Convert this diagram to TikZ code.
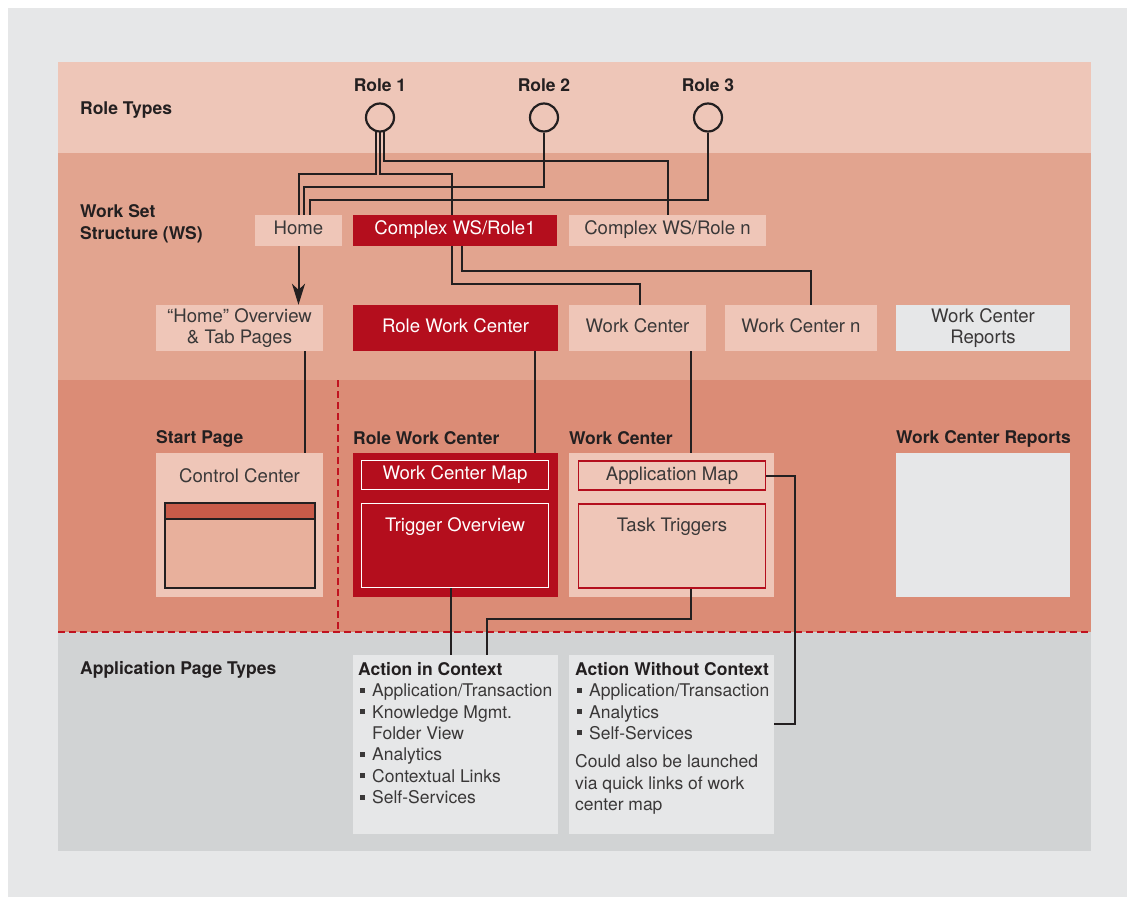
\documentclass[tikz,border=0pt]{standalone}
\usepackage{fontspec}
\setmainfont{TeX Gyre Heros}
\usetikzlibrary{calc,arrows.meta}

\definecolor{outerbg}{HTML}{E6E7E8}
\definecolor{roleband}{HTML}{EEC6B8}
\definecolor{wsband}{HTML}{E2A48F}
\definecolor{pageband}{HTML}{DB8C76}
\definecolor{appband}{HTML}{D1D3D4}
\definecolor{peach}{HTML}{EFC6B8}
\definecolor{paleg}{HTML}{E6E7E8}
\definecolor{dred}{HTML}{B40E1D}
\definecolor{winbar}{HTML}{C85B49}
\definecolor{winbody}{HTML}{E8B09C}
\definecolor{ink}{HTML}{231F20}
\definecolor{txt}{HTML}{3A3838}
\definecolor{dashred}{HTML}{C1121F}

\newcommand{\bul}{\makebox[12pt][l]{\rule[4pt]{5pt}{5pt}}}

\tikzset{
  every node/.style={font=\fontsize{18.6}{21}\selectfont, text=txt, inner sep=0pt},
  bandlabel/.style={font=\bfseries\fontsize{17.5}{22}\selectfont, text=ink, anchor=west, align=left},
  collabel/.style={font=\bfseries\fontsize{17.5}{22}\selectfont, text=ink, anchor=west},
  rolecircle/.style={circle, draw=ink, line width=2.2pt, fill=roleband, minimum size=28pt},
  pbox/.style={fill=peach, align=center},
  rbox/.style={fill=dred, text=white, align=center},
  gbox/.style={fill=paleg, text=txt, align=center},
  oneline/.style={text height=13.5pt, text depth=5.5pt},
  wframe/.style={draw=white, line width=1.8pt, text=white},
  rframe/.style={draw=dred, line width=1.8pt},
  link/.style={draw=ink, line width=2pt},
  reddash/.style={draw=dashred, line width=2pt, dash pattern=on 7pt off 4pt},
  listtext/.style={font=\fontsize{17.5}{21.4}\selectfont, anchor=north west, align=left}
}

\begin{document}
\begin{tikzpicture}[x=1pt,y=-1pt]
\useasboundingbox (0,0) rectangle (1127,897);

% background and horizontal bands
\fill[outerbg] (8,8) rectangle (1127,897);
\fill[roleband] (58,62) rectangle (1091,153);
\fill[wsband] (58,153) rectangle (1091,380);
\fill[pageband] (58,380) rectangle (1091,632);
\fill[appband] (58,632) rectangle (1091,851);
\draw[reddash] (58,632) -- (1091,632);
\draw[reddash] (338,380) -- (338,632);

% band labels
\node[bandlabel] (lblRole) at (80,110.5) {Role Types};
\node[bandlabel] (lblWS) at (80,223.5) {Work Set\\Structure (WS)};
\node[bandlabel] (lblApp) at (80,669.5) {Application Page Types};

% roles
\node[rolecircle] (r1) at (380,117.5) {};
\node[rolecircle] (r2) at (544,117.5) {};
\node[rolecircle] (r3) at (708,117.5) {};
\node[collabel, anchor=center] (r1l) at (380,85.5) {Role 1};
\node[collabel, anchor=center] (r2l) at (544,85.5) {Role 2};
\node[collabel, anchor=center] (r3l) at (708,85.5) {Role 3};

% work set structure
\node[pbox, oneline, minimum width=87pt, minimum height=31pt] (home) at (298.5,230.5) {Home};
\node[rbox, oneline, minimum width=204pt, minimum height=31pt] (cws1) at (455,230.5) {Complex WS/Role1};
\node[pbox, oneline, minimum width=197pt, minimum height=31pt] (cwsn) at (667.5,230.5) {Complex WS/Role n};

\node[pbox, minimum width=167pt, minimum height=46pt] (hov) at (239.5,328) {“Home” Overview\\\& Tab Pages};
\node[rbox, oneline, minimum width=205pt, minimum height=46pt] (rwc) at (455.5,328) {Role Work Center};
\node[pbox, oneline, minimum width=137pt, minimum height=46pt] (wc) at (637.5,328) {Work Center};
\node[pbox, oneline, minimum width=152pt, minimum height=46pt] (wcn) at (801,328) {Work Center n};
\node[gbox, minimum width=174pt, minimum height=46pt] (wcr) at (983,328) {Work Center\\Reports};

% page columns
\node[collabel] (lStart) at (156,438.5) {Start Page};
\node[collabel] (lRwc) at (353,438.5) {Role Work Center};
\node[collabel] (lWc) at (569,438.5) {Work Center};
\node[collabel] (lWcr) at (896,438.5) {Work Center Reports};

\node[pbox, minimum width=167pt, minimum height=144pt] (cc) at (239.5,525) {};
\node (ccT) at (239.5,475.5) {Control Center};
\fill[winbody] (165,503) rectangle (315,588);
\fill[winbar] (165,503) rectangle (315,519);
\draw[ink, line width=2.2pt] (165,503) rectangle (315,588);
\draw[ink, line width=2pt] (165,519) -- (315,519);

\node[rbox, minimum width=205pt, minimum height=144pt] (rwcb) at (455.5,525) {};
\node[wframe, minimum width=187pt, minimum height=29pt] (wcmap) at (455,475) {Work Center Map};
\node[wframe, minimum width=187pt, minimum height=84pt] (trig) at (455,545.5) {};
\node[text=white] (trigT) at (455,527) {Trigger Overview};

\node[pbox, minimum width=205pt, minimum height=144pt] (wcb) at (671.5,525) {};
\node[rframe, minimum width=187pt, minimum height=29pt] (appmap) at (672,475.5) {Application Map};
\node[rframe, minimum width=187pt, minimum height=84pt] (task) at (672,546) {};
\node (taskT) at (672,527) {Task Triggers};

\node[gbox, minimum width=174pt, minimum height=144pt] (wcrb) at (983,525) {};

% application page types
\node[gbox, minimum width=205pt, minimum height=179pt] (aic) at (455.5,744.5) {};
\node[gbox, minimum width=205pt, minimum height=179pt] (awc) at (671.5,744.5) {};
\node[listtext] (aicT) at (358,662) {\textbf{\textcolor{ink}{Action in Context}}\\
  \hspace*{2pt}\bul Application/Transaction\\
  \hspace*{2pt}\bul Knowledge Mgmt.\\
  \hspace*{14pt}Folder View\\
  \hspace*{2pt}\bul Analytics\\
  \hspace*{2pt}\bul Contextual Links\\
  \hspace*{2pt}\bul Self-Services};
\node[listtext] (awcT) at (575,662) {\textbf{\textcolor{ink}{Action Without Context}}\\
  \hspace*{2pt}\bul Application/Transaction\\
  \hspace*{2pt}\bul Analytics\\
  \hspace*{2pt}\bul Self-Services\\[7pt]
  Could also be launched\\
  via quick links of work\\
  center map};

% role connectors
\draw[link] ($(r1.south)+(-4.5,-1)$) |- ($(home.north)+(0,-41)$) -- (home.north);
\draw[link] ($(r1.south)+(-0.5,-1)$) |- ($(cws1.north)+(-3,-41)$) -- ($(cws1.north)+(-3,0)$);
\draw[link] ($(r1.south)+(4,-1)$) |- ($(cwsn.north)+(0,-54)$) -- (cwsn.north);
\draw[link] (r2.south) |- ($(home.north)+(5.5,-28)$) -- ($(home.north)+(5.5,0)$);
\draw[link] (r3.south) |- ($(home.north)+(11.5,-14.5)$) -- ($(home.north)+(11.5,0)$);

% work set connectors
\draw[link, -{Stealth[length=21pt, width=13pt, inset=6pt]}] (home.south) -- (home.south |- hov.north);
\draw[link] ($(cws1.south)+(-3,0)$) |- ($(wc.north)+(2.5,-21)$) -- ($(wc.north)+(2.5,0)$);
\draw[link] ($(cws1.south)+(7,0)$) |- ($(wcn.north)+(10,-34)$) -- ($(wcn.north)+(10,0)$);

% page connectors
\draw[link] ($(hov.south)+(65.5,0)$) -- ($(cc.north)+(65.5,0)$);
\draw[link] ($(rwc.south)+(79.5,0)$) -- ($(rwcb.north)+(79.5,0)$);
\draw[link] ($(wc.south)+(53.5,0)$) -- ($(wcb.north)+(19.5,0)$);
\draw[link] ($(trig.south)+(-4,0)$) -- ($(aic.north)+(-4.5,0)$);
\draw[link] ($(task.south)+(19,0)$) |- ($(aic.north)+(31.5,-36)$) -- ($(aic.north)+(31.5,0)$);
\draw[link] (appmap.east) -| ($(awc.east)+(21,-20.5)$) -- ($(awc.east)+(0,-20.5)$);
\end{tikzpicture}
\end{document}
